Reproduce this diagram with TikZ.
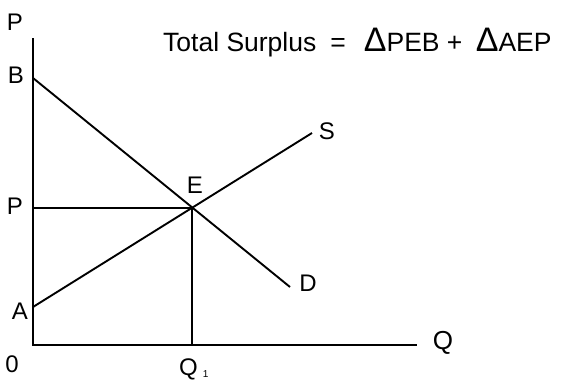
\documentclass[tikz,border=0pt]{standalone}
\usepackage{fontspec}
\setmainfont{Liberation Sans}
\usetikzlibrary{intersections,calc}
\begin{document}
\begin{tikzpicture}[x=1pt,y=-1pt,
  lbl/.style={font=\fontsize{24}{24}\selectfont, inner sep=0pt},
  curve/.style={line width=1.9pt},
  axis/.style={line width=2.4pt}]
\useasboundingbox (0,0) rectangle (566,381);
\coordinate (O) at (33,345);
\coordinate (Ytop) at (33,38);
\coordinate (Xend) at (417,345);
\coordinate (B) at (33,78);
\coordinate (Dend) at (290,287);
\coordinate (A) at (33,307);
\coordinate (Send) at (312,133);
\draw[curve, name path=dem] (B) -- (Dend);
\draw[curve, name path=sup] (A) -- (Send);
\path[name intersections={of=dem and sup, by=E}];
\coordinate (Pp) at (O |- E);
\coordinate (Q1) at (E |- O);
\draw[curve] (Pp) -- (E) -- (Q1);
\draw[axis] (Ytop) -- (O) -- (Xend);
\node[lbl] (lP) at (15,22) {P};
\node[lbl] (lB) at (16,75) {B};
\node[lbl] (lPp) at (15,206) {P};
\node[lbl] (lA) at (20,311) {A};
\node[lbl] (l0) at (12,364) {0};
\node[lbl] (lE) at (195,185) {E};
\node[lbl] (lD) at (308,283) {D};
\node[lbl] (lS) at (327,131) {S};
\node[lbl, font=\fontsize{26}{26}\selectfont] (lQ) at (443,343) {Q};
\node[lbl, anchor=base west] (lQ1) at (179,375) {Q\hspace{5pt}\raisebox{-2pt}{\fontsize{10}{10}\selectfont 1}};
\node[inner sep=0pt, anchor=base west, font=\fontsize{26.5}{26.5}\selectfont] (title) at (163,51)
  {Total Surplus\hspace{14pt}=\hspace{18pt}{\fontsize{34}{34}\selectfont Δ}PEB + \hspace{6pt}{\fontsize{34}{34}\selectfont Δ}AEP};
\end{tikzpicture}
\end{document}
